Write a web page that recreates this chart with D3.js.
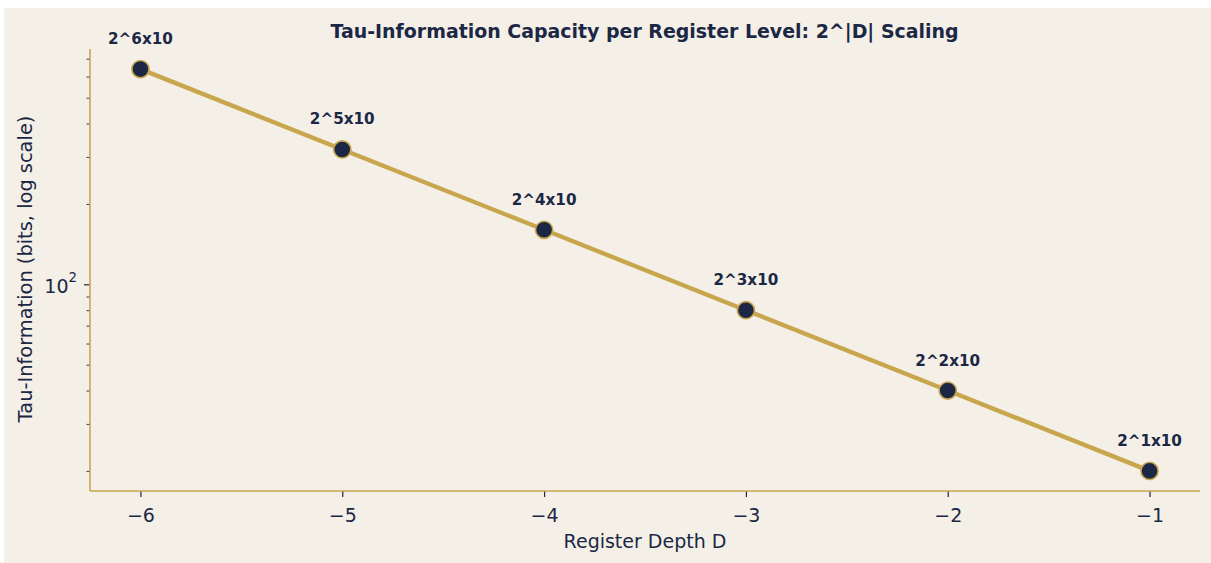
<!DOCTYPE html>
<html>
<head>
<meta charset="utf-8">
<script src="https://cdn.jsdelivr.net/npm/d3@7"></script>
<style>
  html, body { margin: 0; padding: 0; background: #ffffff; }
  svg { display: block; }
  text { font-family: "DejaVu Sans", sans-serif; }
</style>
</head>
<body>
<svg id="chart" width="1211" height="563"></svg>
<script>
const depths = [-6, -5, -4, -3, -2, -1];
const tauInfo = [640, 320, 160, 80, 40, 20];
const pointLabels = ["2^6x10", "2^5x10", "2^4x10", "2^3x10", "2^2x10", "2^1x10"];
const xTicks = [-6, -5, -4, -3, -2, -1];
const yMajorTicks = [100];
const yMinorTicks = [20, 30, 40, 50, 60, 70, 80, 90, 200, 300, 400, 500, 600, 700];

const title = "Tau-Information Capacity per Register Level: 2^|D| Scaling";
const xLabel = "Register Depth D";
const yLabel = "Tau-Information (bits, log scale)";

const navy = "#1b2744";
const gold = "#c9a64e";
const bg = "#f4f0e8";
const font = "DejaVu Sans";

const svg = d3.select("#chart");
svg.append("rect").attr("x", 4).attr("y", 8).attr("width", 1207).attr("height", 555).attr("fill", bg);

const pLeft = 90, pRight = 1200, pTop = 49, pBottom = 491;

const xMin = d3.min(depths), xMax = d3.max(depths);
const xPad = (xMax - xMin) * 0.05;
const x = d3.scaleLinear().domain([xMin - xPad, xMax + xPad]).range([pLeft, pRight]);

const lyMin = Math.log10(d3.min(tauInfo)), lyMax = Math.log10(d3.max(tauInfo));
const lyPad = (lyMax - lyMin) * 0.05;
const y = d3.scaleLog().domain([Math.pow(10, lyMin - lyPad), Math.pow(10, lyMax + lyPad)]).range([pBottom, pTop]);

// Line
const line = d3.line().x((d, i) => x(depths[i])).y(d => y(d));
svg.append("path").datum(tauInfo)
  .attr("d", line).attr("fill", "none")
  .attr("stroke", gold).attr("stroke-width", 4.4).attr("stroke-linejoin", "round");

// Points
svg.append("g").selectAll("circle").data(tauInfo).join("circle")
  .attr("cx", (d, i) => x(depths[i])).attr("cy", d => y(d)).attr("r", 8.6)
  .attr("fill", navy).attr("stroke", gold).attr("stroke-width", 1.6);

// Labels
svg.append("g").selectAll("text").data(tauInfo).join("text")
  .attr("x", (d, i) => x(depths[i])).attr("y", d => y(d) - 25)
  .attr("text-anchor", "middle").attr("font-size", 15.2).attr("font-weight", "bold")
  .attr("font-family", font).attr("fill", navy).text((d, i) => pointLabels[i]);

// X axis
const xAxis = d3.axisBottom(x).tickValues(xTicks).tickSize(6).tickPadding(6)
  .tickFormat(d => d < 0 ? "\u2212" + Math.abs(d) : d);
const gx = svg.append("g").attr("transform", `translate(0,${pBottom})`).call(xAxis);
gx.select(".domain").remove();
gx.selectAll(".tick line").attr("stroke", navy).attr("stroke-width", 1.2);
gx.selectAll(".tick text").attr("fill", navy).attr("font-size", 19).attr("font-family", font)
  .attr("y", 31).attr("dy", 0);

// Y axis major
const yAxis = d3.axisLeft(y).tickValues(yMajorTicks).tickSize(6).tickPadding(6).tickFormat(() => "");
const gy = svg.append("g").attr("transform", `translate(${pLeft},0)`).call(yAxis);
gy.select(".domain").remove();
gy.selectAll(".tick line").attr("stroke", navy).attr("stroke-width", 1.2);
gy.selectAll(".tick text").each(function(d) {
  const t = d3.select(this);
  t.attr("fill", navy).attr("font-size", 19).attr("font-family", font).attr("dy", 0).attr("y", 8).attr("x", -13);
  t.append("tspan").text("10");
  t.append("tspan").attr("font-size", 13.3).attr("dy", -11).text(Math.round(Math.log10(d)));
});

// Y axis minor
const yMinor = d3.axisLeft(y).tickValues(yMinorTicks).tickSize(3.5).tickFormat(() => "");
const gym = svg.append("g").attr("transform", `translate(${pLeft},0)`).call(yMinor);
gym.select(".domain").remove();
gym.selectAll(".tick line").attr("stroke", navy).attr("stroke-width", 0.9);

// Spines
svg.append("line").attr("x1", pLeft).attr("x2", pLeft).attr("y1", pTop).attr("y2", pBottom)
  .attr("stroke", gold).attr("stroke-width", 1.6);
svg.append("line").attr("x1", pLeft).attr("x2", pRight).attr("y1", pBottom).attr("y2", pBottom)
  .attr("stroke", gold).attr("stroke-width", 1.6);

// Title
svg.append("text").attr("x", (pLeft + pRight) / 2 - 0.5).attr("y", 38)
  .attr("text-anchor", "middle").attr("font-size", 18.95).attr("font-weight", "bold")
  .attr("font-family", font).attr("fill", navy).text(title);

// Axis labels
svg.append("text").attr("x", (pLeft + pRight) / 2).attr("y", 548)
  .attr("text-anchor", "middle").attr("font-size", 19).attr("font-family", font)
  .attr("fill", navy).text(xLabel);
svg.append("text").attr("transform", `translate(32,${(pTop + pBottom) / 2 - 1}) rotate(-90)`)
  .attr("text-anchor", "middle").attr("font-size", 19.4).attr("font-family", font)
  .attr("fill", navy).text(yLabel);
</script>
</body>
</html>
